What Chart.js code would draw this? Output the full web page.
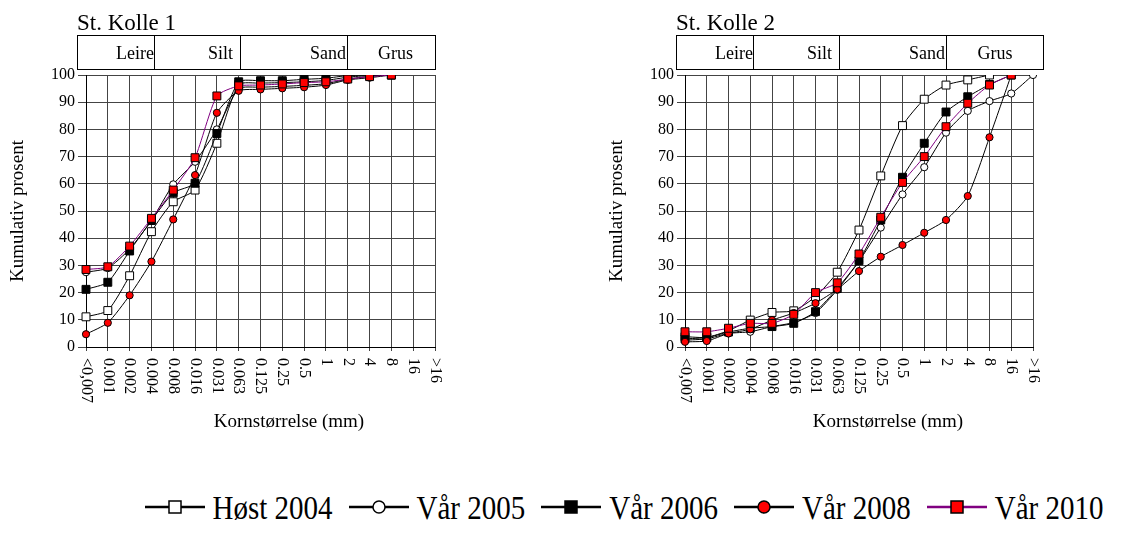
<!DOCTYPE html>
<html lang="no">
<head>
<meta charset="UTF-8">
<title>Kornfordeling St. Kolle 1 og 2</title>
<script src="https://cdn.jsdelivr.net/npm/chart.js@4.4.1/dist/chart.umd.min.js"></script>
<style>
  body { margin: 0; background: #fff; font-family: "Liberation Serif", serif; color: #000; }
  #page { position: relative; width: 1122px; height: 535px; overflow: hidden; }
  canvas { position: absolute; top: 0; }
  .title { position: absolute; top: 9px; font-size: 23px; line-height: 28px; }
  .fraction { position: absolute; top: 35px; height: 35px; box-sizing: border-box; border: 1px solid #000;
              font-size: 18px; line-height: 34px; white-space: nowrap; }
  .xtitle { position: absolute; top: 410px; font-size: 19px; width: 240px; text-align: center; }
  #legend { position: absolute; top: 490px; left: 0; width: 1122px; height: 34px; box-sizing: border-box;
            padding-left: 126px; display: flex; justify-content: center; align-items: center; }
  .item { display: flex; align-items: center; margin: 0 8px; }
  .item span { font-size: 29px; margin-left: 8px; line-height: 34px; display: inline-block; transform: scaleY(1.15); }
</style>
</head>
<body>
<div id="page">
  <canvas id="kolle1" width="450" height="440" style="left:0px"></canvas>
  <canvas id="kolle2" width="449" height="440" style="left:599px"></canvas>

  <div class="title" style="left:77px">St. Kolle 1</div>
  <div class="fraction" style="left:77px;width:78px;text-align:right;padding-right:0">Leire</div>
  <div class="fraction" style="left:154px;width:87px;text-align:right;padding-right:7px">Silt</div>
  <div class="fraction" style="left:240px;width:108px;text-align:right;padding-right:1px">Sand</div>
  <div class="fraction" style="left:347px;width:89px;text-align:center;padding-left:8px">Grus</div>
  <div class="xtitle" style="left:169px">Kornstørrelse (mm)</div>

  <div class="title" style="left:676px">St. Kolle 2</div>
  <div class="fraction" style="left:676px;width:78px;text-align:right;padding-right:0">Leire</div>
  <div class="fraction" style="left:753px;width:87px;text-align:right;padding-right:7px">Silt</div>
  <div class="fraction" style="left:839px;width:108px;text-align:right;padding-right:1px">Sand</div>
  <div class="fraction" style="left:946px;width:98px;text-align:center">Grus</div>
  <div class="xtitle" style="left:768px">Kornstørrelse (mm)</div>

  <div id="legend"></div>
</div>

<script>
  // kornstørrelser (mm)
  const sizeLabels = ['<0,007', '0.001', '0.002', '0.004', '0.008', '0.016', '0.031', '0.063',
                      '0.125', '0.25', '0.5', '1', '2', '4', '8', '16', '>16'];
  const seriesNames = ['Høst 2004', 'Vår 2005', 'Vår 2006', 'Vår 2008', 'Vår 2010'];

  // St. Kolle 1, kumulativ prosent
  const host2004K1 = [11.1, 13.4, 26.2, 42.4, 53.4, 57.7, 74.9, 96.5, 97, 97.2, 97.5, 98, 99.2, 99.8, 100, null, null];
  const var2005K1 = [27.5, 29, 36, 46.5, 59.8, 68.1, 80, 95, 95.5, 95.8, 96.2, 96.8, 98.5, 99.5, 100, null, null];
  const var2006K1 = [21.2, 23.8, 35.3, 46.5, 56.7, 60.2, 78.5, 97.5, 97.9, 97.9, 98.4, 98.8, 99.8, 100, 100, null, null];
  const var2008K1 = [4.7, 8.9, 19.0, 31.4, 46.9, 63.2, 86.1, 94.2, 94.7, 95.1, 95.5, 96.3, 98.2, 99.0, 100, null, null];
  const var2010K1 = [28.5, 29.5, 37.1, 47.3, 57.7, 69.6, 92.3, 96, 96.3, 96.7, 97.2, 97.5, 98.5, 99.4, 100, null, null];

  // St. Kolle 2, kumulativ prosent
  const host2004K2 = [3.0, 3.5, 6.0, 9.9, 12.7, 13.3, 18.5, 27.5, 43, 62.9, 81.4, 91.1, 96.3, 98.2, 100, null, null];
  const var2005K2 = [2.5, 3.0, 5.0, 5.6, 7.5, 9.0, 12.5, 21, 31.5, 43.9, 56.1, 66.1, 78.8, 86.8, 90.4, 93.2, 100];
  const var2006K2 = [3.8, 3.5, 5.5, 6.9, 7.5, 8.7, 13.0, 21.5, 31.7, 46.7, 62.4, 74.9, 86.4, 92, 96.5, 100, null];
  const var2008K2 = [1.9, 2.2, 5.0, 6.5, 9.9, 12.5, 16.1, 21.2, 27.9, 33.2, 37.5, 42, 46.7, 55.5, 77.1, 100, null];
  const var2010K2 = [5.6, 5.6, 6.9, 8.7, 8.7, 12.0, 20, 23.6, 34.2, 47.7, 60.5, 70, 81, 89.6, 96.3, 100, null];

  const yTicks = [0, 10, 20, 30, 40, 50, 60, 70, 80, 90, 100];

  // utseende per serie
  const styles = [
    { line: '#000', fill: '#fff', shape: 'rect', r: 5.6 },
    { line: '#000', fill: '#fff', shape: 'circle', r: 3.6 },
    { line: '#000', fill: '#000', shape: 'rect', r: 5.6 },
    { line: '#000', fill: '#ff0000', shape: 'circle', r: 3.6 },
    { line: '#800080', fill: '#ff0000', shape: 'rect', r: 5.6 }
  ];

  // x-etiketter roteres med klokka (leses ovenfra og ned)
  const xLabelPlugin = {
    id: 'xLabels',
    afterDraw(chart) {
      const sc = chart.scales.x;
      const ctx = chart.ctx;
      ctx.save();
      ctx.font = '16px "Liberation Serif"';
      ctx.fillStyle = '#000';
      ctx.textAlign = 'left';
      ctx.textBaseline = 'middle';
      sc.ticks.forEach((t, i) => {
        ctx.save();
        ctx.translate(sc.getPixelForTick(i), sc.top + 11);
        ctx.rotate(Math.PI / 2);
        ctx.fillText(sizeLabels[i], 0, 0);
        ctx.restore();
      });
      ctx.restore();
    }
  };

  function makeChart(id, data) {
    const datasets = data.map((d, i) => ({
      label: seriesNames[i],
      data: d,
      borderColor: styles[i].line,
      borderWidth: 1,
      backgroundColor: styles[i].fill,
      pointStyle: styles[i].shape,
      pointRadius: styles[i].r,
      pointBorderColor: '#000',
      pointBackgroundColor: styles[i].fill,
      pointBorderWidth: 1,
      tension: 0.2,
      order: 4 - i
    }));

    return new Chart(document.getElementById(id), {
      type: 'line',
      data: { labels: sizeLabels, datasets: datasets },
      options: {
        responsive: false,
        animation: false,
        devicePixelRatio: 1,
        layout: { padding: { top: 75, right: 15, left: 0, bottom: 0 } },
        plugins: { legend: { display: false }, tooltip: { enabled: false } },
        scales: {
          x: {
            type: 'category',
            offset: false,
            ticks: { display: false },
            grid: { color: '#444', lineWidth: 1, offset: false, tickLength: 4 },
            border: { color: '#000' },
            afterFit: (s) => { s.height = 93; }
          },
          y: {
            min: 0,
            max: 100,
            afterBuildTicks: (s) => { s.ticks = yTicks.map(v => ({ value: v })); },
            ticks: { font: { family: 'Liberation Serif', size: 16 }, color: '#000', padding: 3 },
            grid: { color: '#444', lineWidth: 1, tickLength: 8 },
            border: { color: '#000' },
            title: {
              display: true,
              text: 'Kumulativ prosent',
              font: { family: 'Liberation Serif', size: 19 },
              color: '#000',
              padding: { top: 7, bottom: 0 }
            },
            afterFit: (s) => { s.width = 86; }
          }
        }
      },
      plugins: [xLabelPlugin]
    });
  }

  makeChart('kolle1', [host2004K1, var2005K1, var2006K1, var2008K1, var2010K1]);
  makeChart('kolle2', [host2004K2, var2005K2, var2006K2, var2008K2, var2010K2]);

  // felles tegnforklaring
  const legend = document.getElementById('legend');
  seriesNames.forEach((name, i) => {
    const st = styles[i];
    const marker = st.shape === 'rect'
      ? `<rect x="24" y="9" width="12" height="12" fill="${st.fill}" stroke="#000" stroke-width="1.5"/>`
      : `<circle cx="30" cy="15" r="6" fill="${st.fill}" stroke="#000" stroke-width="1.5"/>`;
    const item = document.createElement('div');
    item.className = 'item';
    item.innerHTML = `<svg width="60" height="30"><line x1="0" y1="15" x2="60" y2="15" stroke="${st.line}" stroke-width="2.5"/>${marker}</svg><span>${name}</span>`;
    legend.appendChild(item);
  });
</script>
</body>
</html>
